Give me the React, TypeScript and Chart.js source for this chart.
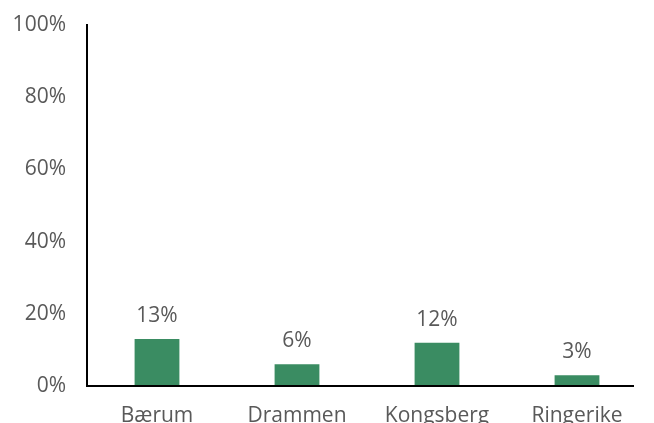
import React, { useEffect, useRef } from "react";
import { Chart, registerables } from "chart.js";

Chart.register(...registerables);

const categories = ["Bærum", "Drammen", "Kongsberg", "Ringerike"];
const shares = [13, 6, 12, 3];
const yTicks = [0, 20, 40, 60, 80, 100];

const FONT = "'Open Sans', 'Noto Sans', sans-serif";
const TEXT = "#595959";
const BAR = "#3a8c62";

// Percent labels above each bar
const valueLabels = {
  id: "valueLabels",
  afterDatasetsDraw(chart: any) {
    const { ctx } = chart;
    const meta = chart.getDatasetMeta(0);
    ctx.save();
    ctx.font = `21px ${FONT}`;
    ctx.fillStyle = TEXT;
    ctx.textAlign = "center";
    ctx.textBaseline = "alphabetic";
    meta.data.forEach((bar: any, i: number) => {
      ctx.fillText(`${shares[i]}%`, bar.x, bar.y - 17);
    });
    ctx.restore();
  },
};

// Horizontal baseline that stops a little short of the plot's right edge
const baseline = {
  id: "baseline",
  afterDatasetsDraw(chart: any) {
    const { ctx, chartArea } = chart;
    const y = chart.scales.y.getPixelForValue(0);
    ctx.save();
    ctx.strokeStyle = "#000";
    ctx.lineWidth = 2;
    ctx.beginPath();
    ctx.moveTo(chartArea.left - 1, y);
    ctx.lineTo(chartArea.right - 13, y);
    ctx.stroke();
    ctx.restore();
  },
};

export default function App() {
  const ref = useRef<HTMLCanvasElement>(null);

  useEffect(() => {
    if (!ref.current) return;
    const chart = new Chart(ref.current, {
      type: "bar",
      data: {
        labels: categories,
        datasets: [
          {
            data: shares,
            backgroundColor: BAR,
            categoryPercentage: 1,
            barPercentage: 0.32,
          },
        ],
      },
      options: {
        animation: false,
        responsive: false,
        maintainAspectRatio: false,
        layout: { padding: { top: 25, right: 7, left: 0, bottom: 0 } },
        plugins: { legend: { display: false }, tooltip: { enabled: false } },
        scales: {
          x: {
            grid: { display: false, drawTicks: false },
            border: { display: false },
            ticks: {
              color: TEXT,
              font: { family: FONT, size: 21 },
              padding: 17,
              maxRotation: 0,
              autoSkip: false,
            },
            afterFit(scale: any) {
              scale.height = 37;
            },
          },
          y: {
            min: 0,
            max: 100,
            afterBuildTicks(scale: any) {
              scale.ticks = yTicks.map((v) => ({ value: v }));
            },
            grid: { display: false, drawTicks: false },
            border: { display: true, color: "#000", width: 2 },
            ticks: {
              color: TEXT,
              font: { family: FONT, size: 21 },
              padding: 21,
              callback: (v: any) => `${v}%`,
            },
            afterFit(scale: any) {
              scale.width = 87;
              scale.paddingTop = 0;
              scale.paddingBottom = 0;
            },
          },
        },
      },
      plugins: [valueLabels, baseline],
    });
    return () => chart.destroy();
  }, []);

  return (
    <div style={{ position: "fixed", inset: 0, background: "#fff" }}>
      <canvas ref={ref} width={654} height={423} style={{ display: "block" }} />
    </div>
  );
}
